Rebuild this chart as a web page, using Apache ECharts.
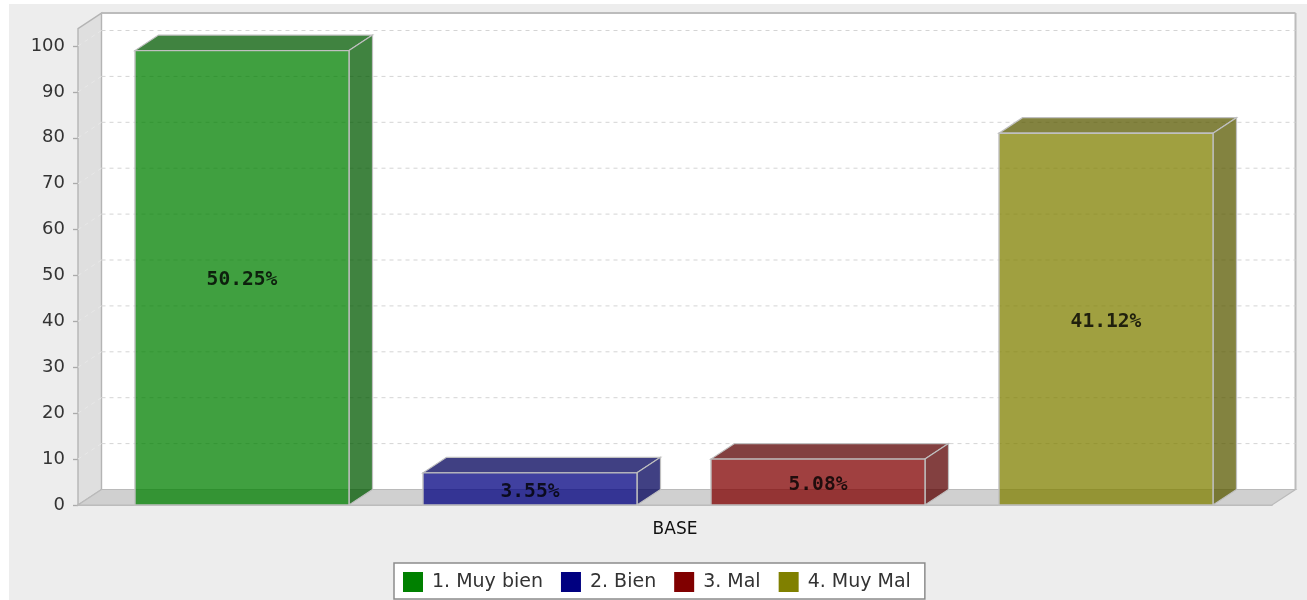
<!DOCTYPE html>
<html><head><meta charset="utf-8">
<style>
html,body{margin:0;padding:0;background:#fff;width:1307px;height:600px;overflow:hidden}
#panel{position:absolute;left:9px;top:4px;width:1298px;height:596px;background:#ededed}
#chart{position:absolute;left:0;top:0;width:1307px;height:600px;filter:blur(0.55px)}
</style>
<script src="https://cdn.jsdelivr.net/npm/echarts@6/dist/echarts.min.js"></script>
</head><body>
<div id="panel"></div><div id="chart"></div>
<script>
const categories = ['BASE'];
const seriesNames = ['1. Muy bien', '2. Bien', '3. Mal', '4. Muy Mal'];
const seriesValues = [99, 7, 10, 81];
const percentLabels = ['50.25%', '3.55%', '5.08%', '41.12%'];
const frontColors = ['rgba(0,128,0,0.75)', 'rgba(0,0,128,0.75)', 'rgba(128,0,0,0.75)', 'rgba(128,128,0,0.75)'];
const sideColors = ['rgba(0,89,0,0.75)', 'rgba(0,0,89,0.75)', 'rgba(89,0,0,0.75)', 'rgba(89,89,0,0.75)'];
const legendColors = ['#008000', '#000080', '#800000', '#808000'];
const tickValues = [10, 20, 30, 40, 50, 60, 70, 80, 90, 100];

const DX = 23.5, DY = 15.5, AXIS_TOP_VALUE = 103.8;
const STEP = 288 / 1194, WIDTH = 214 / 1194, SHIFT = -1 / 1194;
const OUT = '#c0c0c0';

function poly(points, fill, stroke, lw) {
  return { type: 'polygon', shape: { points }, style: { fill, stroke: stroke || null, lineWidth: lw || 0 } };
}

function renderWalls(params, api) {
  const a = api.coord([0, 0]), band = api.size([1, 0])[0];
  const l = a[0] - band / 2, r = a[0] + band / 2, b = a[1];
  const t = api.coord([0, AXIS_TOP_VALUE])[1];
  const children = [
    poly([[l + DX, t - DY], [r + DX, t - DY], [r + DX, b - DY], [l + DX, b - DY]], '#ffffff'),
    poly([[l, t], [l + DX, t - DY], [l + DX, b - DY], [l, b]], '#dfdfdf', '#b4b4b4', 1.4),
    poly([[l, b], [l + DX, b - DY], [r + DX, b - DY], [r, b]], '#d0d0d0', '#bababa', 1.2),
    { type: 'line', shape: { x1: l + DX, y1: t - DY, x2: r + DX, y2: t - DY }, style: { stroke: '#bcbcbc', lineWidth: 2 } },
    { type: 'line', shape: { x1: r + DX, y1: t - DY, x2: r + DX, y2: b - DY }, style: { stroke: '#bcbcbc', lineWidth: 2 } }
  ];
  tickValues.forEach(v => {
    const y = api.coord([0, v])[1];
    children.push({ type: 'line', shape: { x1: l + DX, y1: y - DY, x2: r + DX, y2: y - DY },
      style: { stroke: '#d4d4d4', lineWidth: 1, lineDash: [4, 4] } });
    children.push({ type: 'line', shape: { x1: l, y1: y, x2: l + DX, y2: y - DY },
      style: { stroke: '#e8e8e8', lineWidth: 1, lineDash: [4, 4] } });
  });
  return { type: 'group', children };
}

function makeBarRenderer(i) {
  return function (params, api) {
    const top = api.coord([api.value(0), api.value(1)]);
    const base = api.coord([api.value(0), 0]);
    const band = api.size([1, 0])[0];
    const cx = top[0] + ((i - 1.5) * STEP + SHIFT) * band;
    const w = WIDTH * band;
    const x0 = cx - w / 2, x1 = cx + w / 2, y0 = top[1], y1 = base[1];
    return { type: 'group', children: [
      poly([[x0, y0], [x1, y0], [x1 + DX, y0 - DY], [x0 + DX, y0 - DY]], sideColors[i], OUT, 1.2),
      poly([[x1, y0], [x1 + DX, y0 - DY], [x1 + DX, y1 - DY], [x1, y1]], sideColors[i], OUT, 1.2),
      poly([[x0, y0], [x1, y0], [x1, y1], [x0, y1]], frontColors[i], OUT, 1.4),
      { type: 'text', style: { x: cx, y: (y0 + y1) / 2 + 2.5, text: percentLabels[i], align: 'center', verticalAlign: 'middle',
        fill: 'rgba(0,0,0,0.8)', font: 'bold 19.6px "DejaVu Sans Mono"' } }
    ] };
  };
}

const chart = echarts.init(document.getElementById('chart'), null, { renderer: 'canvas' });
chart.setOption({
  animation: false,
  backgroundColor: 'transparent',
  textStyle: { fontFamily: 'DejaVu Sans' },
  grid: { left: 78, right: 35, top: 46, bottom: 95 },
  legend: {
    data: seriesNames, left: 394, top: 563, orient: 'horizontal',
    backgroundColor: '#ffffff', borderColor: '#8c8c8c', borderWidth: 1.5,
    padding: [9, 14, 7, 9], itemWidth: 20, itemHeight: 20, itemGap: 18, icon: 'rect', selectedMode: false,
    textStyle: { fontSize: 19, color: '#333', padding: [0, 0, 0, 4], fontFamily: 'DejaVu Sans' }
  },
  xAxis: { type: 'category', data: categories,
    axisLine: { show: true, lineStyle: { color: '#b0b0b0', width: 1.5 } }, axisTick: { show: false },
    axisLabel: { margin: 16, fontSize: 17, color: '#111', fontFamily: 'DejaVu Sans' } },
  yAxis: { type: 'value', min: 0, max: 100, interval: 10, splitLine: { show: false },
    axisLine: { show: false }, axisTick: { show: true, length: 5, lineStyle: { color: '#aaa', width: 1.3 } },
    axisLabel: { margin: 13, fontSize: 18, color: '#333', padding: [6, 0, 0, 0], fontFamily: 'DejaVu Sans' } },
  series: [
    { type: 'custom', silent: true, z: 1, data: [[0, 0]], renderItem: renderWalls, encode: { x: 0, y: 1 }, clip: false }
  ].concat(seriesNames.map((name, i) => ({
    type: 'custom', name, z: 2 + i, data: [[0, seriesValues[i]]], renderItem: makeBarRenderer(i),
    encode: { x: 0, y: 1 }, clip: false, itemStyle: { color: legendColors[i] }
  })))
});
</script>
</body></html>
